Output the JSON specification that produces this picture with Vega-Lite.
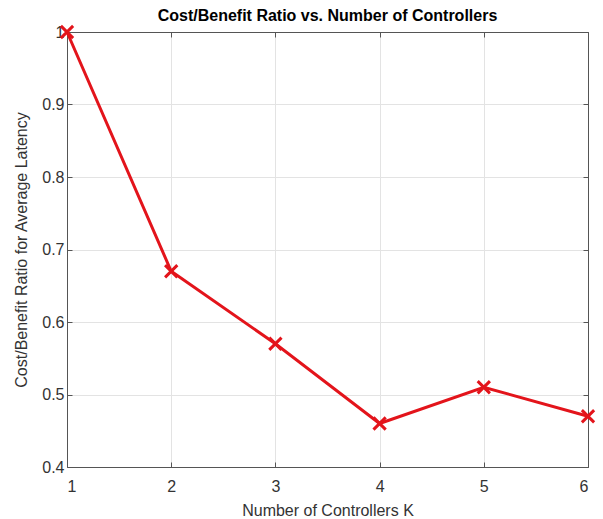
{
  "$schema": "https://vega.github.io/schema/vega-lite/v6.json",
  "width": 521,
  "height": 435,
  "autosize": {"type": "none"},
  "padding": {"left": 67, "top": 32, "right": 15, "bottom": 52},
  "background": "white",
  "title": {
    "text": "Cost/Benefit Ratio vs. Number of Controllers",
    "font": "Liberation Sans",
    "fontSize": 16,
    "fontWeight": "bold",
    "color": "#000000",
    "offset": -4,
    "anchor": "middle"
  },
  "data": {
    "values": [
      {"k": 1, "ratio": 1.0},
      {"k": 2, "ratio": 0.67},
      {"k": 3, "ratio": 0.57},
      {"k": 4, "ratio": 0.46},
      {"k": 5, "ratio": 0.51},
      {"k": 6, "ratio": 0.47}
    ]
  },
  "config": {
    "view": {"stroke": null},
    "axis": {
      "labelFont": "Liberation Sans",
      "titleFont": "Liberation Sans",
      "labelFontSize": 16,
      "titleFontSize": 16,
      "titleFontWeight": "normal",
      "labelColor": "#333333",
      "titleColor": "#333333",
      "domainColor": "#555555",
      "tickColor": "#555555",
      "gridColor": "#e3e3e3",
      "gridWidth": 1
    }
  },
  "layer": [
    {
      "mark": {"type": "line", "color": "#e3141b", "strokeWidth": 3},
      "encoding": {
        "x": {
          "field": "k", "type": "quantitative",
          "scale": {"domain": [1, 6], "nice": false, "zero": false},
          "axis": {"title": "Number of Controllers K", "values": [1, 2, 3, 4, 5, 6], "tickSize": -5, "labelPadding": 16, "titlePadding": 8, "grid": true, "format": "d"}
        },
        "y": {
          "field": "ratio", "type": "quantitative",
          "scale": {"domain": [0.4, 1.0], "nice": false, "zero": false},
          "axis": {"title": "Cost/Benefit Ratio for Average Latency", "values": [0.4, 0.5, 0.6, 0.7, 0.8, 0.9, 1], "tickSize": -5, "labelPadding": 8, "titlePadding": 12, "grid": true, "format": "~g"}
        }
      }
    },
    {
      "mark": {"type": "point", "shape": "M-1,-1L1,1M-1,1L1,-1", "filled": false, "color": "#e3141b", "strokeWidth": 3, "size": 150, "opacity": 1},
      "encoding": {
        "x": {
          "field": "k", "type": "quantitative",
          "axis": {"title": null, "values": [1, 2, 3, 4, 5, 6], "tickSize": -5, "labels": false, "grid": false}
        },
        "y": {
          "field": "ratio", "type": "quantitative",
          "axis": {"title": null, "values": [0.4, 0.5, 0.6, 0.7, 0.8, 0.9, 1], "tickSize": -5, "labels": false, "grid": false}
        }
      }
    }
  ],
  "resolve": {"axis": {"x": "independent", "y": "independent"}}
}
